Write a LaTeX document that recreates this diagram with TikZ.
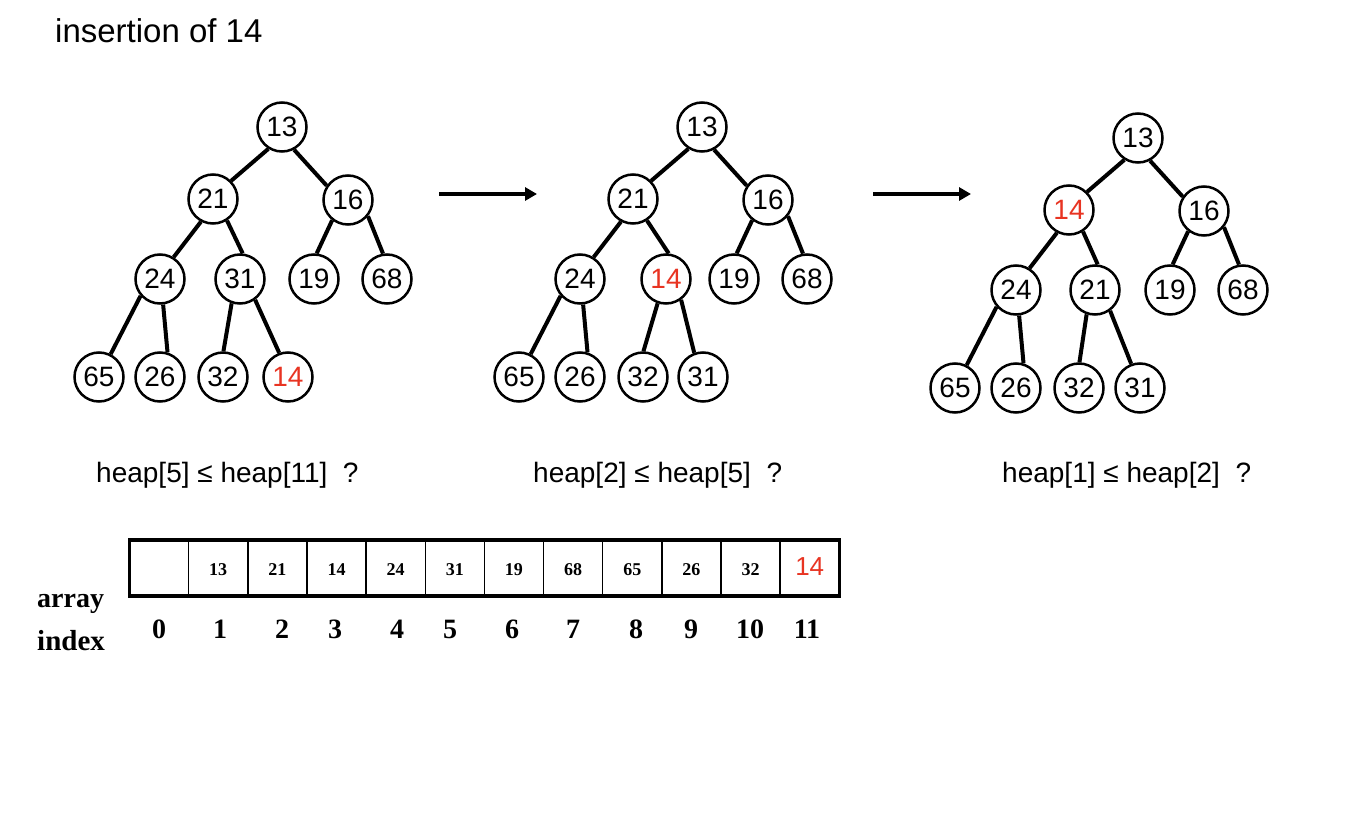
\documentclass[tikz,border=0pt]{standalone}
\usepackage{fontspec}
\setmainfont{Liberation Sans}
\newfontfamily\serifbold{Liberation Serif}[BoldFont={Liberation Serif Bold}]
\usetikzlibrary{arrows.meta}
\definecolor{hred}{RGB}{232,52,34}
\tikzset{
  hn/.style={circle, draw, line width=2.5pt, minimum size=49pt, inner sep=0pt,
             font=\fontsize{28}{30}\selectfont},
  he/.style={line width=4pt},
  harrow/.style={line width=4pt, -{Triangle[length=12pt,width=13pt]}},
  qtext/.style={anchor=base west, inner sep=0pt, font=\fontsize{28}{30}\selectfont},
  cellt/.style={inner sep=0pt, font=\serifbold\bfseries\fontsize{18}{20}\selectfont},
  idxt/.style={anchor=base, inner sep=0pt, font=\serifbold\bfseries\fontsize{28}{30}\selectfont},
}
\newcommand\htree[8]{%
  \begin{scope}[shift={(#2,#3)}]
    \node[hn] (#1-1) at (282,127) {13};
    \node[hn] (#1-2) at (213,199) {#6};
    \node[hn] (#1-3) at (348,200) {16};
    \node[hn] (#1-4) at (160,279) {24};
    \node[hn] (#1-5) at (#4,279) {#7};
    \node[hn] (#1-6) at (314,279) {19};
    \node[hn] (#1-7) at (387,279) {68};
    \node[hn] (#1-8) at (99,377) {65};
    \node[hn] (#1-9) at (160,377) {26};
    \node[hn] (#1-10) at (223,377) {32};
    \node[hn] (#1-11) at (#5,377) {#8};
    \draw[he] (#1-1.238) -- (#1-2.45);
    \draw[he] (#1-1.298) -- (#1-3.146);
    \draw[he] (#1-2.242) -- (#1-4.58);
    \draw[he] (#1-2.303) -- (#1-5.84);
    \draw[he] (#1-3.232) -- (#1-6.84);
    \draw[he] (#1-3.321) -- (#1-7.99);
    \draw[he] (#1-4.221) -- (#1-8.63);
    \draw[he] (#1-4.277) -- (#1-9.73);
    \draw[he] (#1-5.251) -- (#1-10.89);
    \draw[he] (#1-5.306) -- (#1-11.110);
  \end{scope}}
\begin{document}
\begin{tikzpicture}[x=1pt,y=-1pt]
  \useasboundingbox[fill=white] (0,0) rectangle (1358,816);

  \node[anchor=base west, inner sep=0pt, font=\fontsize{33}{36}\selectfont] (title) at (55,43) {insertion of 14};

  \htree{a}{0}{0}{240}{288}{21}{31}{\textcolor{hred}{14}}
  \htree{b}{420}{0}{246}{283}{21}{\textcolor{hred}{14}}{31}
  \htree{c}{856}{11}{239}{284}{\textcolor{hred}{14}}{21}{31}

  \coordinate (ar1s) at (439,194);
  \coordinate (ar1e) at (537,194);
  \coordinate (ar2s) at (873,194);
  \coordinate (ar2e) at (971,194);
  \draw[harrow] (ar1s) -- (ar1e);
  \draw[harrow] (ar2s) -- (ar2e);

  \node[qtext] (q1) at (96,482) {heap[5] ≤ heap[11]\ \ ?};
  \node[qtext] (q2) at (533,482) {heap[2] ≤ heap[5]\ \ ?};
  \node[qtext] (q3) at (1002,482) {heap[1] ≤ heap[2]\ \ ?};

  % array
  \foreach \i in {1,...,11}
    \draw[line width=1.4pt] ({129.5+59.15*\i},540) -- ({129.5+59.15*\i},596);
  \draw[line width=3.5pt] (129.5,540) rectangle (839.3,596);
  \foreach \v [count=\i] in {13,21,14,24,31,19,68,65,26,32}
    \node[cellt] (c\i) at ({129.5+59.15*(\i+0.5)},570) {\v};
  \node[inner sep=0pt, font=\fontsize{26}{28}\selectfont, text=hred] (c11) at ({129.5+59.15*11.5},567) {14};

  \node[anchor=base west, inner sep=0pt, font=\serifbold\bfseries\fontsize{28}{30}\selectfont] (lab1) at (37,607) {array};
  \node[anchor=base west, inner sep=0pt, font=\serifbold\bfseries\fontsize{29}{30}\selectfont] (lab2) at (37,650) {index};
  \foreach \x/\t in {159/0,220/1,282/2,335/3,397/4,450/5,512/6,573/7,636/8,691/9,750/10,807/11}
    \node[idxt] (i\t) at (\x,638) {\t};
\end{tikzpicture}
\end{document}
